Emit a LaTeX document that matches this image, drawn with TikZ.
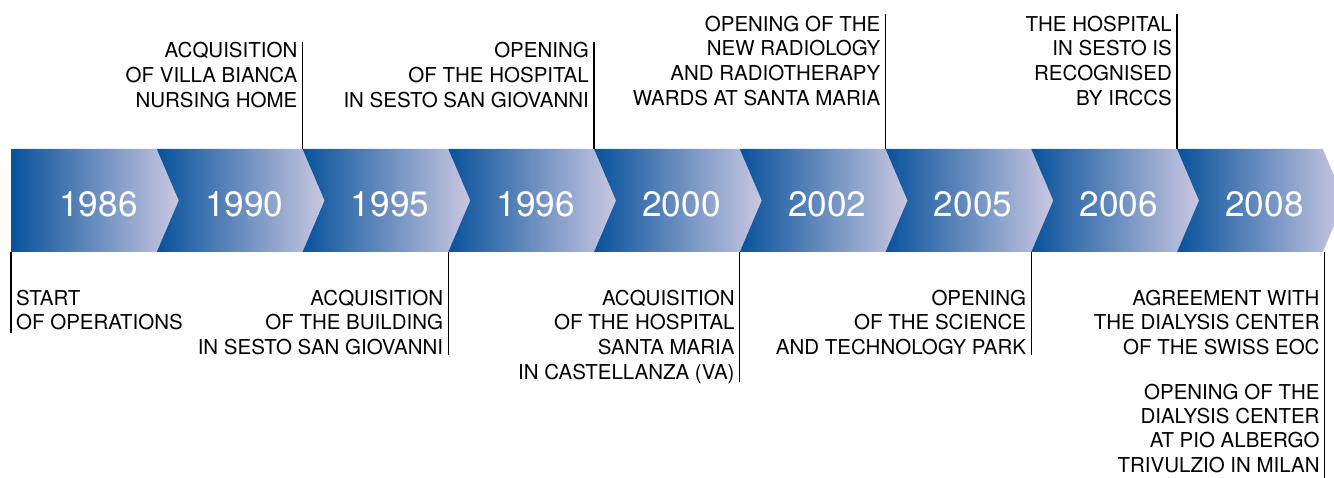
\documentclass[tikz,border=0pt]{standalone}
\usepackage{fontspec}
\setmainfont{TeX Gyre Heros}
\definecolor{cdark}{RGB}{8,82,156}
\definecolor{clight}{RGB}{202,200,226}
\begin{document}
\begin{tikzpicture}[x=1pt,y=-1pt,
  evt/.style={font=\fontsize{20.5}{24.8}\selectfont, inner sep=0pt, align=right, anchor=north east},
  evtl/.style={font=\fontsize{20.5}{24.8}\selectfont, inner sep=0pt, align=left, anchor=north west},
  yr/.style={font=\fontsize{35.2}{40}\selectfont, text=white, inner sep=0pt},
  tick/.style={draw=black, line width=1.2pt},
  chev/.style={left color=cdark, right color=clight}]
\useasboundingbox (0,0) rectangle (1334,478);
\def\p{145.75}
% chevrons
\shade[chev] (11,149) -- (11+\p,149) -- (11+\p+22,200.5) -- (11+\p,252) -- (11,252) -- cycle;
\foreach \k in {1,...,8} {
  \pgfmathsetmacro\s{11+\k*\p}
  \shade[chev] (\s,149) -- (\s+\p,149) -- (\s+\p+22,200.5) -- (\s+\p,252) -- (\s,252) -- (\s+22,200.5) -- cycle;
}
% years
\foreach \k/\yy in {0/1986,1/1990,2/1995,3/1996,4/2000,5/2002,6/2005,7/2006,8/2008} {
  \pgfmathsetmacro\s{11+\k*\p}
  \node[yr] (y\yy) at (\s+87.5,204.5) {\yy};
}
% tick coordinates
\coordinate (a1990t) at (11+2*\p,42);   \coordinate (a1990b) at (11+2*\p,149);
\coordinate (a1996t) at (11+4*\p,42);   \coordinate (a1996b) at (11+4*\p,149);
\coordinate (a2002t) at (11+6*\p,14);   \coordinate (a2002b) at (11+6*\p,149);
\coordinate (a2006t) at (11+8*\p,14);   \coordinate (a2006b) at (11+8*\p,149);
\coordinate (b1986t) at (11,252);       \coordinate (b1986b) at (11,333);
\coordinate (b1995t) at (11+3*\p,252);  \coordinate (b1995b) at (11+3*\p,355);
\coordinate (b2000t) at (11+5*\p,252);  \coordinate (b2000b) at (11+5*\p,382);
\coordinate (b2005t) at (11+7*\p,252);  \coordinate (b2005b) at (11+7*\p,355);
\coordinate (b2008t) at (11+9*\p+2,252);\coordinate (b2008b) at (11+9*\p+2,480);
\foreach \n in {a1990,a1996,a2002,a2006,b1986,b1995,b2000,b2005,b2008}
  \draw[tick] (\n t) -- (\n b);
% top events
\node[evt] (e1990) at ([xshift=-5pt]a1990t) {ACQUISITION\\OF VILLA BIANCA\\NURSING HOME};
\node[evt] (e1996) at ([xshift=-5pt]a1996t) {OPENING\\OF THE HOSPITAL\\IN SESTO SAN GIOVANNI};
\node[evt] (e2002) at ([xshift=-5pt,yshift=-1.5pt]a2002t) {OPENING OF THE\\NEW RADIOLOGY\\AND RADIOTHERAPY\\WARDS AT SANTA MARIA};
\node[evt] (e2006) at ([xshift=-5pt,yshift=-1.5pt]a2006t) {THE HOSPITAL\\IN SESTO IS\\RECOGNISED\\BY IRCCS};
% bottom events
\node[evtl] (e1986) at (16,289.5) {START\\OF OPERATIONS};
\node[evt] (e1995) at (11+3*\p-5,289.5) {ACQUISITION\\OF THE BUILDING\\IN SESTO SAN GIOVANNI};
\node[evt] (e2000) at (11+5*\p-5,289.5) {ACQUISITION\\OF THE HOSPITAL\\SANTA MARIA\\IN CASTELLANZA (VA)};
\node[evt] (e2005) at (11+7*\p-5,289.5) {OPENING\\OF THE SCIENCE\\AND TECHNOLOGY PARK};
\node[evt] (e2008a) at (11+9*\p-3,289.5) {AGREEMENT WITH\\THE DIALYSIS CENTER\\OF THE SWISS EOC};
\node[evt,font=\fontsize{20.5}{24.2}\selectfont] (e2008b) at (11+9*\p-3,384) {OPENING OF THE\\DIALYSIS CENTER\\AT PIO ALBERGO\\TRIVULZIO IN MILAN};
\end{tikzpicture}
\end{document}
